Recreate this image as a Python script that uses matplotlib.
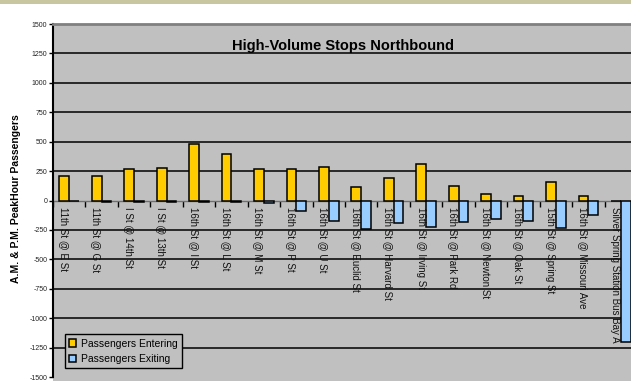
import matplotlib
matplotlib.use("Agg")
import matplotlib.pyplot as plt
from matplotlib.patches import Rectangle
import numpy as np

plt.rcParams['font.family'] = ['Liberation Sans', 'DejaVu Sans']

stops = [
    "11th St @ E St", "11th St @ G St", "I St @ 14th St", "I St @ 13th St",
    "16th St @ I St", "16th St @ L St", "16th St @ M St", "16th St @ P St",
    "16th St @ U St", "16th St @ Euclid St", "16th St @ Harvard St",
    "16th St @ Irving St", "16th St @ Park Rd", "16th St @ Newton St",
    "16th St @ Oak St", "15th St @ Spring St", "16th St @ Missouri Ave",
    "Silver Spring Station Bus Bay A",
]
entering = [210, 210, 267, 275, 481, 396, 269, 267, 283, 114, 193, 312,
            119, 59, 40, 159, 40, 0]
exiting = [0, -10, -10, -10, -10, -10, -22, -93, -170, -243, -192, -223,
           -181, -153, -170, -235, -124, -1205]
y_ticks = [1500, 1250, 1000, 750, 500, 250, 0, -250, -500, -750, -1000, -1250, -1500]

W, H = 631, 381
fig = plt.figure(figsize=(W / 100, H / 100), dpi=100)
fig.patch.set_facecolor('white')

# header strip and bottom band
fig.add_artist(Rectangle((0, 1 - 4 / H), 1, 4 / H, transform=fig.transFigure,
                         facecolor='#c8c6a0', edgecolor='none', zorder=0))
fig.add_artist(Rectangle((53 / W, 0), 1, 4 / H, transform=fig.transFigure,
                         facecolor='#c0c0c0', edgecolor='none', zorder=0))

ax = fig.add_axes([53 / W, 4 / H, 584 / W, 353 / H])
ax.set_facecolor('#c0c0c0')

x = np.arange(len(stops))
bw = 0.3
ax.bar(x - bw / 2, entering, bw, color='#ffcc00', edgecolor='black',
       linewidth=1.1, zorder=3, label='Passengers Entering')
ax.bar(x + bw / 2, exiting, bw, color='#99ccff', edgecolor='black',
       linewidth=1.1, zorder=3, label='Passengers Exiting')

ax.set_xlim(-0.5, len(stops) - 0.5)
ax.set_ylim(-1500, 1500)
ax.set_yticks(y_ticks)
ax.set_yticklabels([str(v) for v in y_ticks], fontsize=5, color='#222222')
for v in y_ticks:
    if v not in (0, 1500, -1500):
        ax.axhline(v, color='black', linewidth=1.1, zorder=1)

# category axis crossing at zero
ax.spines['bottom'].set_position(('data', 0))
ax.spines['bottom'].set_color('#707070')
ax.spines['bottom'].set_linewidth(1.0)
ax.spines['bottom'].set_zorder(2)
ax.set_xticks(np.arange(len(stops) + 1) - 0.5)
ax.set_xticklabels([])
ax.tick_params(axis='x', direction='out', length=4, width=1, color='black')
ax.spines['left'].set_color('black')
ax.spines['left'].set_linewidth(1.5)
ax.tick_params(axis='y', direction='out', length=3, width=1, color='black', pad=1)
ax.spines['top'].set_color('#808080')
ax.spines['top'].set_linewidth(2)
ax.spines['right'].set_visible(False)

for xi, name in zip(x, stops):
    ax.annotate(name, xy=(xi - 0.17, 0), xytext=(0, -5),
                textcoords='offset points', rotation=270, ha='center',
                va='top', fontsize=7, color='#111111', zorder=4)

ax.text(0.5 * (len(stops) - 1) - 0.06, 1278, "High-Volume Stops Northbound",
        ha='center', va='baseline', fontsize=10.5, fontweight='bold', zorder=4)

fig.text(16 / W, 1 - 199 / H, "A.M. & P.M. PeakHour Passengers", rotation=90,
         ha='center', va='center', fontsize=7.5, fontweight='bold')

leg = ax.legend(loc='lower left', bbox_to_anchor=(65 / W, 13 / H),
                bbox_transform=fig.transFigure, fontsize=7.5,
                frameon=True, fancybox=False, framealpha=1,
                facecolor='#c0c0c0', edgecolor='black', handlelength=0.7,
                handleheight=0.7, handletextpad=0.4, borderpad=0.4,
                labelspacing=0.5, borderaxespad=0)
leg.get_frame().set_linewidth(1.0)
leg.set_zorder(5)

fig.savefig('out.png', dpi=100)
